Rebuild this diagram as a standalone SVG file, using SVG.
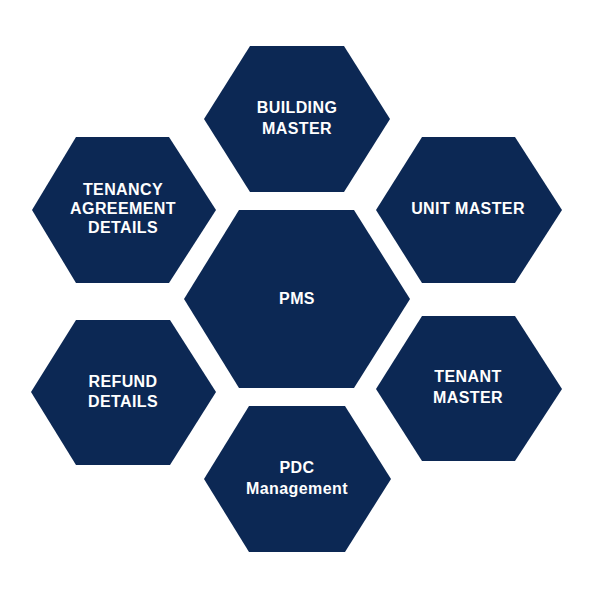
<svg xmlns="http://www.w3.org/2000/svg" width="601" height="598" viewBox="0 0 601 598">
<style>
.hex{fill:#0C2854}
.t{fill:#FFFFFF;font-family:"Liberation Sans",Arial,sans-serif;font-weight:bold;font-size:16px;letter-spacing:0.4px;text-anchor:middle}
</style>
<rect width="601" height="598" fill="#FFFFFF"/>
<g id="building-master">
<polygon class="hex" points="250,46 344,46 390,119 344,192 250,192 204,119"/>
<text class="t" x="297" y="113">BUILDING</text>
<text class="t" x="297" y="134">MASTER</text>
</g>
<g id="tenancy-agreement">
<polygon class="hex" points="76,137 169,137 216,210 169,283 76,283 32,210"/>
<text class="t" x="123" y="195">TENANCY</text>
<text class="t" x="123" y="214">AGREEMENT</text>
<text class="t" x="123" y="233">DETAILS</text>
</g>
<g id="unit-master">
<polygon class="hex" points="422,137 515,137 562,210 515,283 422,283 376,210"/>
<text class="t" x="468" y="214">UNIT MASTER</text>
</g>
<g id="pms">
<polygon class="hex" points="239,210 354,210 410,299 354,388 239,388 184,299"/>
<text class="t" x="297" y="304">PMS</text>
</g>
<g id="refund-details">
<polygon class="hex" points="76,320 170,320 216,392 170,465 76,465 31,392"/>
<text class="t" x="123" y="387">REFUND</text>
<text class="t" x="123" y="407">DETAILS</text>
</g>
<g id="tenant-master">
<polygon class="hex" points="422,316 515,316 562,389 515,461 422,461 376,389"/>
<text class="t" x="468" y="382">TENANT</text>
<text class="t" x="468" y="403">MASTER</text>
</g>
<g id="pdc-management">
<polygon class="hex" points="249,406 345,406 391,479 345,552 249,552 204,479"/>
<text class="t" x="297" y="473">PDC</text>
<text class="t" x="297" y="494">Management</text>
</g>
<g id="connectors"></g>
</svg>
